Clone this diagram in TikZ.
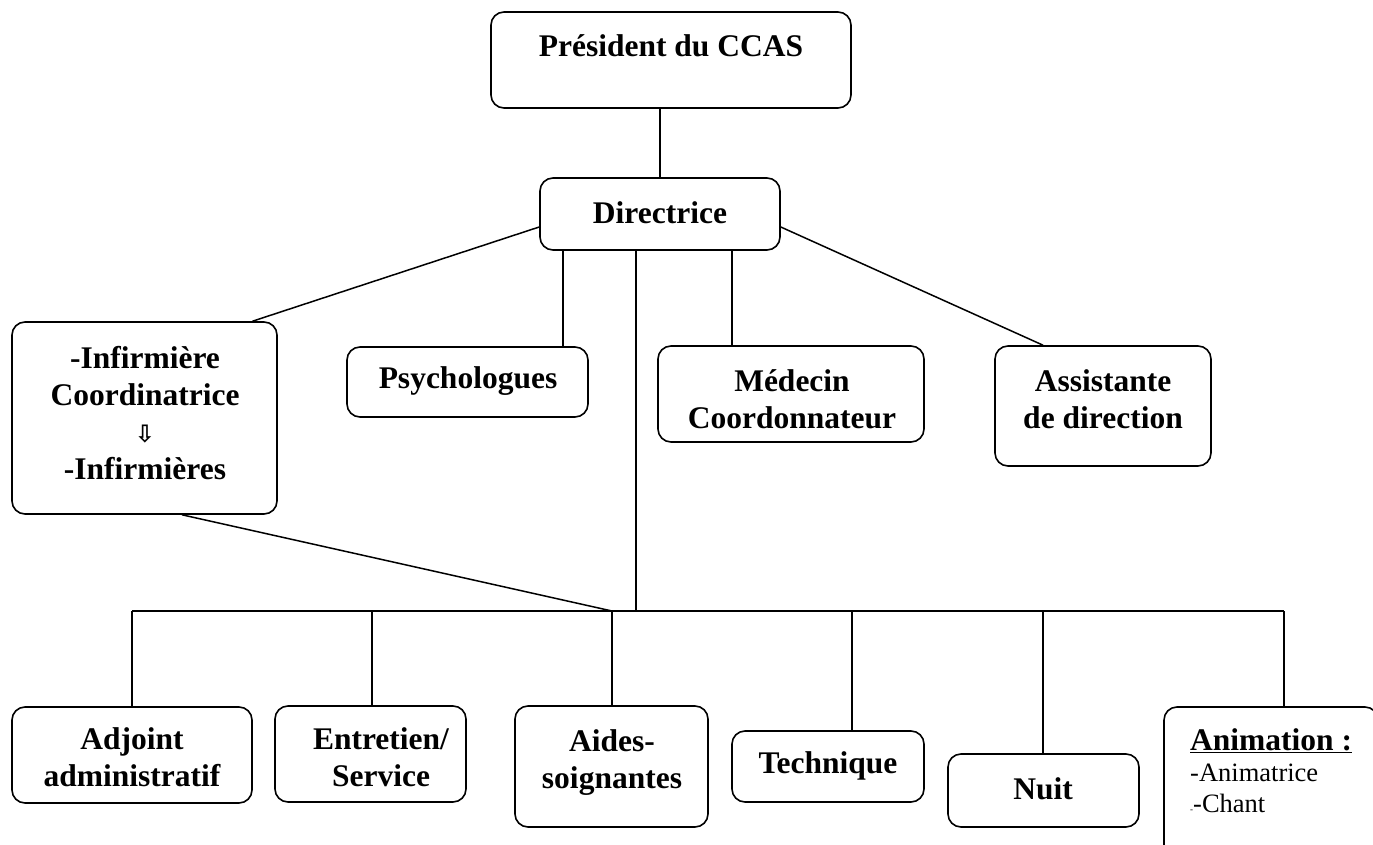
\documentclass[tikz,border=0pt]{standalone}
\usepackage{fontspec}
\setmainfont{Liberation Serif}
\newfontfamily\arrowfont{DejaVu Sans}
\tikzset{
    orgbox/.style={draw, line width=1.6, rounded corners=13, inner sep=0},
    orgline/.style={line width=1.5},
    orgtext/.style={font=\bfseries\fontsize{31.5}{37}\selectfont, align=center, inner sep=0, anchor=base},
    subtext/.style={font=\fontsize{26.5}{31}\selectfont, align=left, inner sep=0, anchor=base west}
}
\newcommand\OrgBox[5]{%
    \node[orgbox, minimum width={#4-#2}, minimum height={#5-#3}] (#1) at ({(#2+#4)/2},{(#3+#5)/2}) {};
}

\begin{document}
\begin{tikzpicture}[x=1pt, y=-1pt]
    \useasboundingbox (0,0) rectangle (1373,845);
    % boxes
    \OrgBox{pres}{491}{12}{851}{108}
    \OrgBox{dir}{540}{178}{780}{250}
    \OrgBox{inf}{12}{322}{277}{514}
    \OrgBox{psy}{347}{347}{588}{417}
    \OrgBox{med}{658}{346}{924}{442}
    \OrgBox{ass}{995}{346}{1211}{466}
    \OrgBox{adj}{12}{707}{252}{803}
    \OrgBox{ent}{275}{706}{466}{802}
    \OrgBox{aid}{515}{706}{708}{827}
    \OrgBox{tec}{732}{731}{924}{802}
    \OrgBox{nui}{948}{754}{1139}{827}
    \OrgBox{ani}{1164}{707}{1378}{870}
    % texts (base = last line)
    \node[orgtext] (presT) at (671,57) {Président du CCAS};
    \node[orgtext] (dirT) at (660,223) {Directrice};
    \node[orgtext] (infT) at (145,479) {-Infirmière\\Coordinatrice\\{\arrowfont\fontsize{24}{37}\selectfont ⇩}\\-Infirmières};
    \node[orgtext] (psyT) at (468,388) {Psychologues};
    \node[orgtext] (medT) at (792,428) {Médecin\\Coordonnateur};
    \node[orgtext] (assT) at (1103,428) {Assistante\\de direction};
    \node[orgtext] (adjT) at (132,786) {Adjoint\\administratif};
    \node[orgtext] (entT) at (381,786) {Entretien/\\Service};
    \node[orgtext] (aidT) at (612,788) {Aides-\\soignantes};
    \node[orgtext] (tecT) at (828,773) {Technique};
    \node[orgtext] (nuiT) at (1043,799) {Nuit};
    \node[subtext] (aniT) at (1190,812) {{\bfseries\fontsize{31.5}{31}\selectfont\underline{Animation :}}\\-Animatrice\\{\fontsize{9}{9}\selectfont -}-Chant};
    % connectors
    \draw[orgline] (pres.south -| dir.north) -- (dir.north);
    \draw[orgline] ([yshift=-13]dir.west) -- ([xshift=108]inf.north);
    \draw[orgline] ([yshift=-13]dir.east) -- ([xshift=-60]ass.north);
    \coordinate (psyTop) at ([xshift=95.5]psy.north);
    \coordinate (medTop) at ([xshift=-59]med.north);
    \draw[orgline] (psyTop |- dir.south) -- (psyTop);
    \draw[orgline] (medTop |- dir.south) -- (medTop);
    \coordinate (busMain) at (636,611);
    \draw[orgline] (dir.south -| busMain) -- (busMain);
    \foreach \b/\x in {adj/132, ent/372, aid/612, tec/852, nui/1043, ani/1284} {
        \coordinate (bus-\b) at (\x,611);
        \draw[orgline] (bus-\b) -- (bus-\b |- \b.north);
    }
    \draw[orgline] (bus-adj) -- (bus-ani);
    \draw[orgline] ([xshift=37.5]inf.south) -- (bus-aid);
\end{tikzpicture}
\end{document}
